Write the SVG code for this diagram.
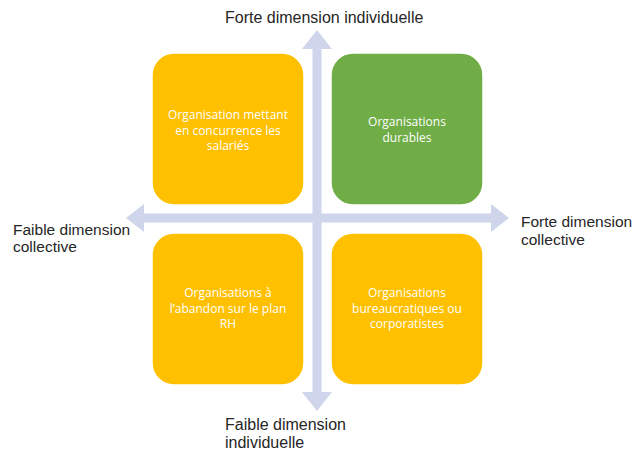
<svg xmlns="http://www.w3.org/2000/svg" width="637" height="454" viewBox="0 0 637 454">
  <style>
    .axis { fill: #CFD5EA; }
    .box { stroke: #ffffff; stroke-width: 1.5; }
    .orange { fill: #FFC000; }
    .green { fill: #70AD47; }
    .inner { font-family: "Open Sans", "Liberation Sans", sans-serif; font-size: 12px; fill: #ffffff; text-anchor: middle; }
    .label { font-family: "Liberation Sans", Arial, sans-serif; font-size: 16px; fill: #262626; }
    .side { font-size: 15.5px; }
  </style>
  <rect width="637" height="454" fill="#ffffff"/>

  <!-- double-headed axes -->
  <g id="connectors">
    <path class="axis" d="M317 30 L332 49 L321.5 49 L321.5 392 L332 392 L317 411 L302 392 L312.5 392 L312.5 49 L302 49 Z"/>
    <path class="axis" d="M126 218 L144 204 L144 213.5 L491 213.5 L491 204 L509 218 L491 232 L491 222.5 L144 222.5 L144 232 Z"/>
  </g>

  <g id="quadrant-top-left">
    <rect class="box orange" x="152" y="53" width="152" height="152" rx="22"/>
    <text class="inner" x="228" y="119">Organisation mettant</text>
    <text class="inner" x="228" y="134.5">en concurrence les</text>
    <text class="inner" x="228" y="150">salariés</text>
  </g>

  <g id="quadrant-top-right">
    <rect class="box green" x="331" y="53" width="152" height="152" rx="22"/>
    <text class="inner" x="407" y="126">Organisations</text>
    <text class="inner" x="407" y="141.5">durables</text>
  </g>

  <g id="quadrant-bottom-left">
    <rect class="box orange" x="152" y="233" width="152" height="152" rx="22"/>
    <text class="inner" x="228" y="297">Organisations à</text>
    <text class="inner" x="228" y="312.5">l’abandon sur le plan</text>
    <text class="inner" x="228" y="328">RH</text>
  </g>

  <g id="quadrant-bottom-right">
    <rect class="box orange" x="331" y="233" width="152" height="152" rx="22"/>
    <text class="inner" x="407" y="297">Organisations</text>
    <text class="inner" x="407" y="312.5">bureaucratiques ou</text>
    <text class="inner" x="407" y="328">corporatistes</text>
  </g>

  <g id="label-top">
    <text class="label" x="225" y="23">Forte dimension individuelle</text>
  </g>
  <g id="label-bottom">
    <text class="label" x="225" y="430">Faible dimension</text>
    <text class="label" x="225" y="448">individuelle</text>
  </g>
  <g id="label-left">
    <text class="label side" x="13" y="235">Faible dimension</text>
    <text class="label side" x="13" y="252">collective</text>
  </g>
  <g id="label-right">
    <text class="label side" x="521" y="227">Forte dimension</text>
    <text class="label side" x="521" y="245">collective</text>
  </g>
</svg>
